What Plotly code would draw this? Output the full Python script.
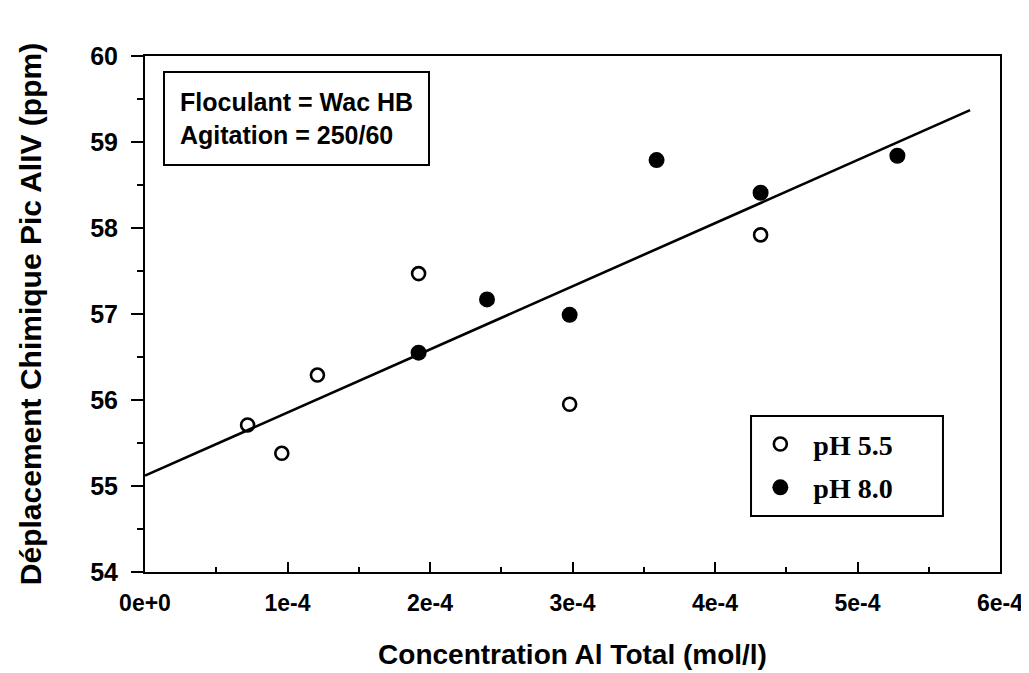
import plotly.graph_objects as go

# ---- data ----
ph55_x = [0.72e-4, 0.96e-4, 1.21e-4, 1.92e-4, 2.98e-4, 4.32e-4]
ph55_y = [55.71, 55.38, 56.29, 57.47, 55.95, 57.92]

ph80_x = [1.92e-4, 2.40e-4, 2.98e-4, 3.59e-4, 4.32e-4, 5.28e-4]
ph80_y = [56.55, 57.17, 56.99, 58.79, 58.41, 58.84]

fit_x = [0.0, 5.79e-4]
fit_y = [55.12, 59.37]

x_tickvals = [0, 1e-4, 2e-4, 3e-4, 4e-4, 5e-4, 6e-4]
x_ticktext = ["0e+0", "1e-4", "2e-4", "3e-4", "4e-4", "5e-4", "6e-4"]
y_tickvals = [54, 55, 56, 57, 58, 59, 60]

SANS = "Liberation Sans, Arial, Helvetica, sans-serif"
SERIF = "Liberation Serif, Times New Roman, serif"

fig = go.Figure()

fig.add_trace(go.Scatter(
    x=fit_x, y=fit_y, mode="lines",
    line=dict(color="black", width=2.6),
    showlegend=False, hoverinfo="skip",
))

fig.add_trace(go.Scatter(
    x=ph55_x, y=ph55_y, mode="markers", name="pH 5.5",
    legendgroup="a",
    marker=dict(symbol="circle-open", size=13, color="black",
                line=dict(color="black", width=2.6)),
))

fig.add_trace(go.Scatter(
    x=ph80_x, y=ph80_y, mode="markers", name="pH 8.0",
    legendgroup="b",
    marker=dict(symbol="circle", size=16, color="black"),
))

fig.update_layout(
    width=1029, height=673,
    margin=dict(l=137, r=37, t=48, b=109),
    paper_bgcolor="white", plot_bgcolor="white",
    font=dict(family=SANS, color="black"),
    showlegend=True,
    legend=dict(
        x=0.7045, y=0.296, xanchor="left", yanchor="top",
        borderwidth=0, bgcolor="rgba(0,0,0,0)",
        font=dict(family=SERIF, size=28, color="black", weight="bold"),
        tracegroupgap=4,
        itemwidth=56,
    ),
    shapes=[dict(
        type="rect", xref="paper", yref="paper",
        x0=0.7088, x1=0.9333, y0=0.1085, y1=0.3023,
        line=dict(color="black", width=2), fillcolor="rgba(0,0,0,0)",
        layer="above",
    )],
    annotations=[dict(
        xref="paper", yref="paper", x=0.021, y=0.971,
        xanchor="left", yanchor="top", align="left",
        text="<b>Floculant = Wac HB</b><br><b>Agitation = 250/60</b>",
        showarrow=False,
        font=dict(family=SANS, size=25, color="black"),
        bordercolor="black", borderwidth=2, borderpad=15, bgcolor="white",
    )],
)

fig.update_xaxes(
    range=[0, 6e-4], automargin=False,
    tickvals=x_tickvals, ticktext=x_ticktext,
    ticks="inside", ticklen=10, tickwidth=2, tickcolor="black",
    minor=dict(ticks="inside", dtick=0.5e-4, ticklen=5, tickwidth=2, tickcolor="black"),
    showline=True, linewidth=2, linecolor="black", mirror=True,
    showgrid=False, zeroline=False,
    tickfont=dict(family=SANS, size=23, color="black", weight="bold"),
    ticklabelstandoff=9,
    title=dict(text="<b>Concentration Al Total (mol/l)</b>",
               font=dict(family=SANS, size=28, color="black"), standoff=30),
)

fig.update_yaxes(
    range=[54, 60], automargin=False,
    tickvals=y_tickvals,
    ticks="outside", ticklen=12, tickwidth=2, tickcolor="black",
    minor=dict(ticks="outside", dtick=0.5, ticklen=6, tickwidth=2, tickcolor="black"),
    showline=True, linewidth=2, linecolor="black", mirror=True,
    showgrid=False, zeroline=False,
    tickfont=dict(family=SANS, size=25, color="black", weight="bold"),
    ticklabelstandoff=8,
    title=dict(text="<b>Déplacement Chimique Pic AlIV (ppm)</b>",
               font=dict(family=SANS, size=30, color="black"), standoff=40),
)

fig.write_html("out.html")
